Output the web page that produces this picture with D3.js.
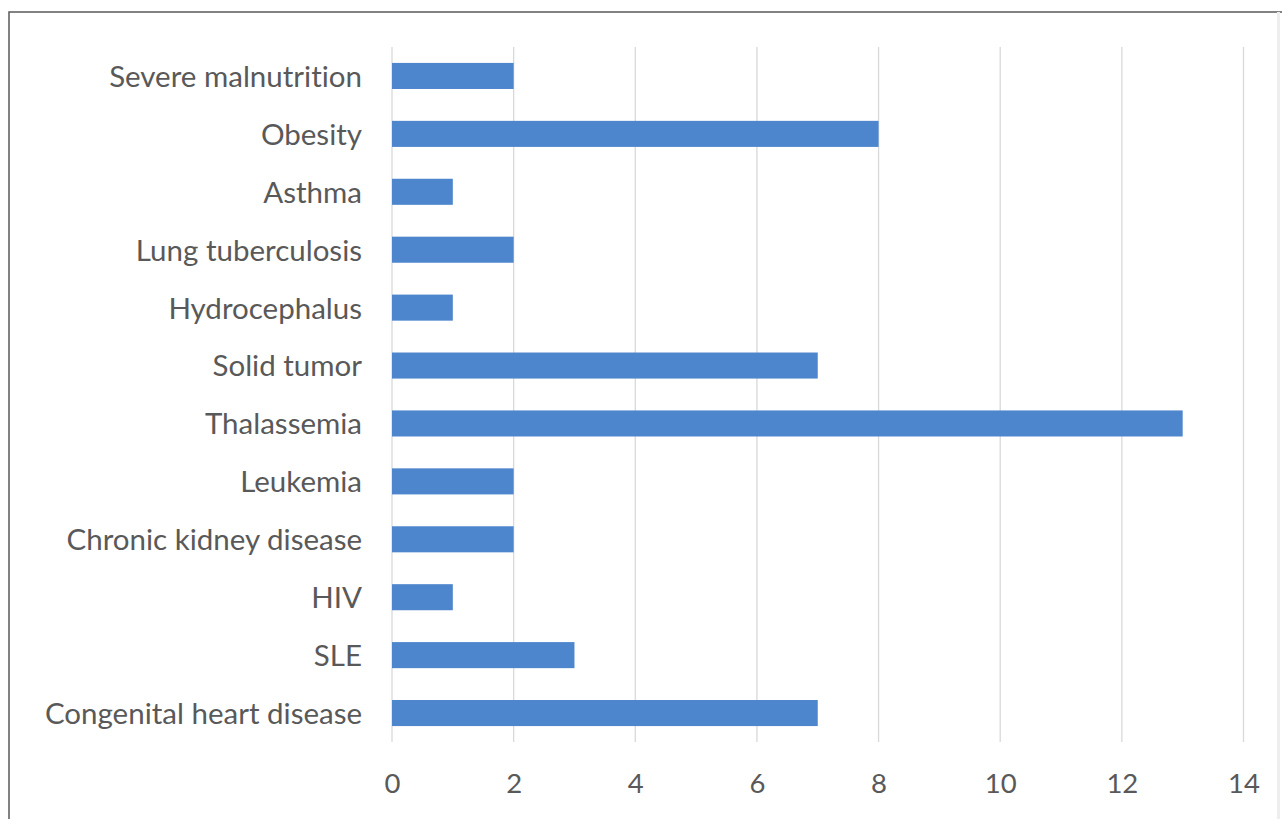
<!DOCTYPE html>
<html>
<head>
<meta charset="utf-8">
<script src="https://cdn.jsdelivr.net/npm/d3@7"></script>
<style>
html,body{margin:0;padding:0;background:#fff;}
svg{display:block;}
text{font-variant-ligatures:none;font-feature-settings:"liga" 0;}
</style>
</head>
<body>
<svg id="chart" width="1282" height="819"></svg>
<script>
const categories = ["Severe malnutrition","Obesity","Asthma","Lung tuberculosis","Hydrocephalus","Solid tumor","Thalassemia","Leukemia","Chronic kidney disease","HIV","SLE","Congenital heart disease"];
const values = [2,8,1,2,1,7,13,2,2,1,3,7];
const xTicks = [0,2,4,6,8,10,12,14];

const svg = d3.select("#chart");
const W = 1282, H = 819;
const font = "Lato, 'Open Sans', sans-serif";
const textColor = "#595959";

// frame
svg.append("rect").attr("x",9).attr("y",12).attr("width",W+10).attr("height",H+10)
  .attr("fill","#fff").attr("stroke","#595959").attr("stroke-width",1.5);
svg.append("line").attr("x1",1278.5).attr("x2",1278.5).attr("y1",12).attr("y2",H)
  .attr("stroke","#eeeeee").attr("stroke-width",3);

const x = d3.scaleLinear().domain([0,14]).range([392,1243.5]);
const y = d3.scaleBand().domain(categories).range([47,742]).paddingInner(0.55).paddingOuter(0.275);

// gridlines
svg.append("g").selectAll("line").data(xTicks).join("line")
  .attr("x1",d=>x(d)).attr("x2",d=>x(d)).attr("y1",47).attr("y2",742)
  .attr("stroke","#d9d9d9").attr("stroke-width",1.3);

// bars
svg.append("g").selectAll("rect").data(categories).join("rect")
  .attr("x",x(0)).attr("y",d=>y(d))
  .attr("width",(d,i)=>x(values[i])-x(0)).attr("height",y.bandwidth())
  .attr("fill","#4e86cd");

// x axis labels
const xAxis = d3.axisBottom(x).tickValues(xTicks).tickSize(0).tickPadding(0);
const gx = svg.append("g").attr("transform","translate(0,773)").call(xAxis);
gx.select(".domain").remove();
gx.selectAll("text").attr("font-family",font).attr("font-size",27.5).attr("fill",textColor).attr("dy","0.71em");

// y axis labels
const yAxis = d3.axisLeft(y).tickSize(0).tickPadding(0);
const gy = svg.append("g").attr("transform","translate(362,1.5)").call(yAxis);
gy.select(".domain").remove();
gy.selectAll("text").attr("font-family",font).attr("font-size",29.5).attr("fill",textColor);
</script>
</body>
</html>
